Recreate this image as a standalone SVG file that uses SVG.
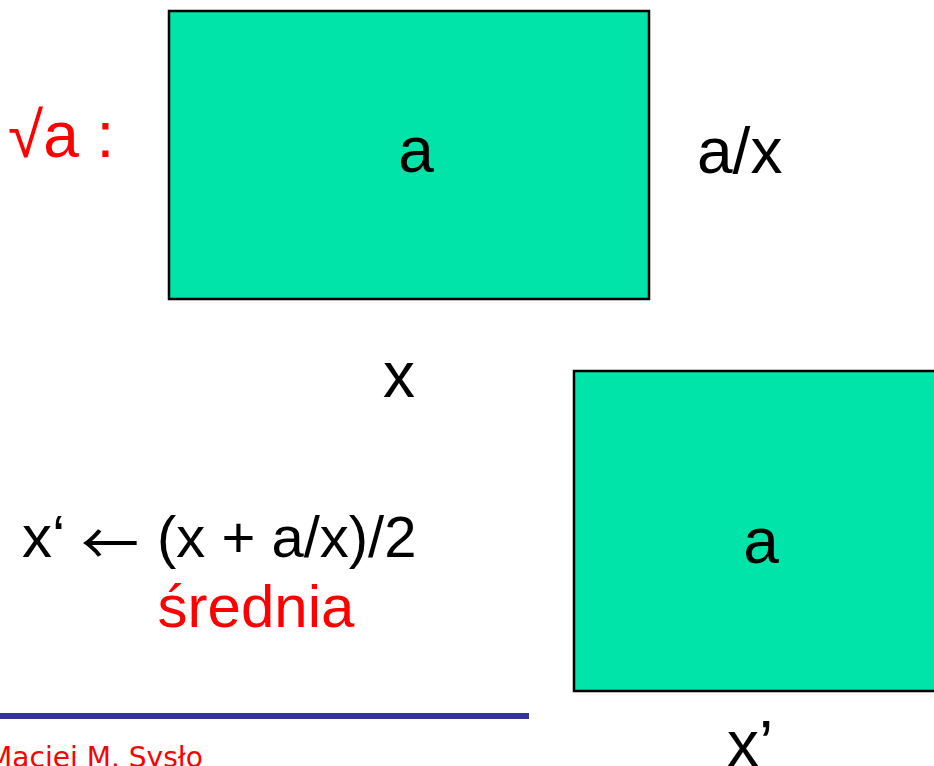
<svg xmlns="http://www.w3.org/2000/svg" width="934" height="766" viewBox="0 0 934 766">
<style>
.box{fill:#00E4A9;stroke:#000;stroke-width:2.5}
.t{font-family:"Liberation Sans",Arial,sans-serif;fill:#000}
.r{fill:#FF0000}
</style>
<rect width="934" height="766" fill="#fff"/>
<g id="square1">
<rect class="box" x="169" y="11" width="480" height="288"/>
<text class="t" x="416" y="172" font-size="64" text-anchor="middle">a</text>
</g>
<g id="square2">
<rect class="box" x="574" y="371" width="380" height="320"/>
<text class="t" x="761" y="563" font-size="64" text-anchor="middle">a</text>
</g>
<g id="labels">
<text class="t r" x="8" y="157" font-size="64">√a :</text>
<text class="t" x="697" y="173" font-size="64">a/x</text>
<text class="t" x="399" y="397" font-size="64" text-anchor="middle">x</text>
<text class="t" x="22" y="557" font-size="60">x‘ <tspan font-family="'Noto Sans CJK SC',sans-serif" font-size="58" x="81" y="565">←</tspan> <tspan x="157" y="557" font-size="58">(x + a/x)/2</tspan></text>
<text class="t r" x="256" y="627" font-size="60" text-anchor="middle">średnia</text>
<text class="t" x="727" y="766" font-size="64">x’</text>
</g>
<g id="footer">
<rect x="0" y="713" width="529" height="6" fill="#333399"/>
<text x="-12" y="767" font-size="28" font-family="'DejaVu Sans',Verdana,sans-serif" fill="#FF0000" textLength="215" lengthAdjust="spacingAndGlyphs">Maciej M. Sysło</text>
</g>
</svg>
